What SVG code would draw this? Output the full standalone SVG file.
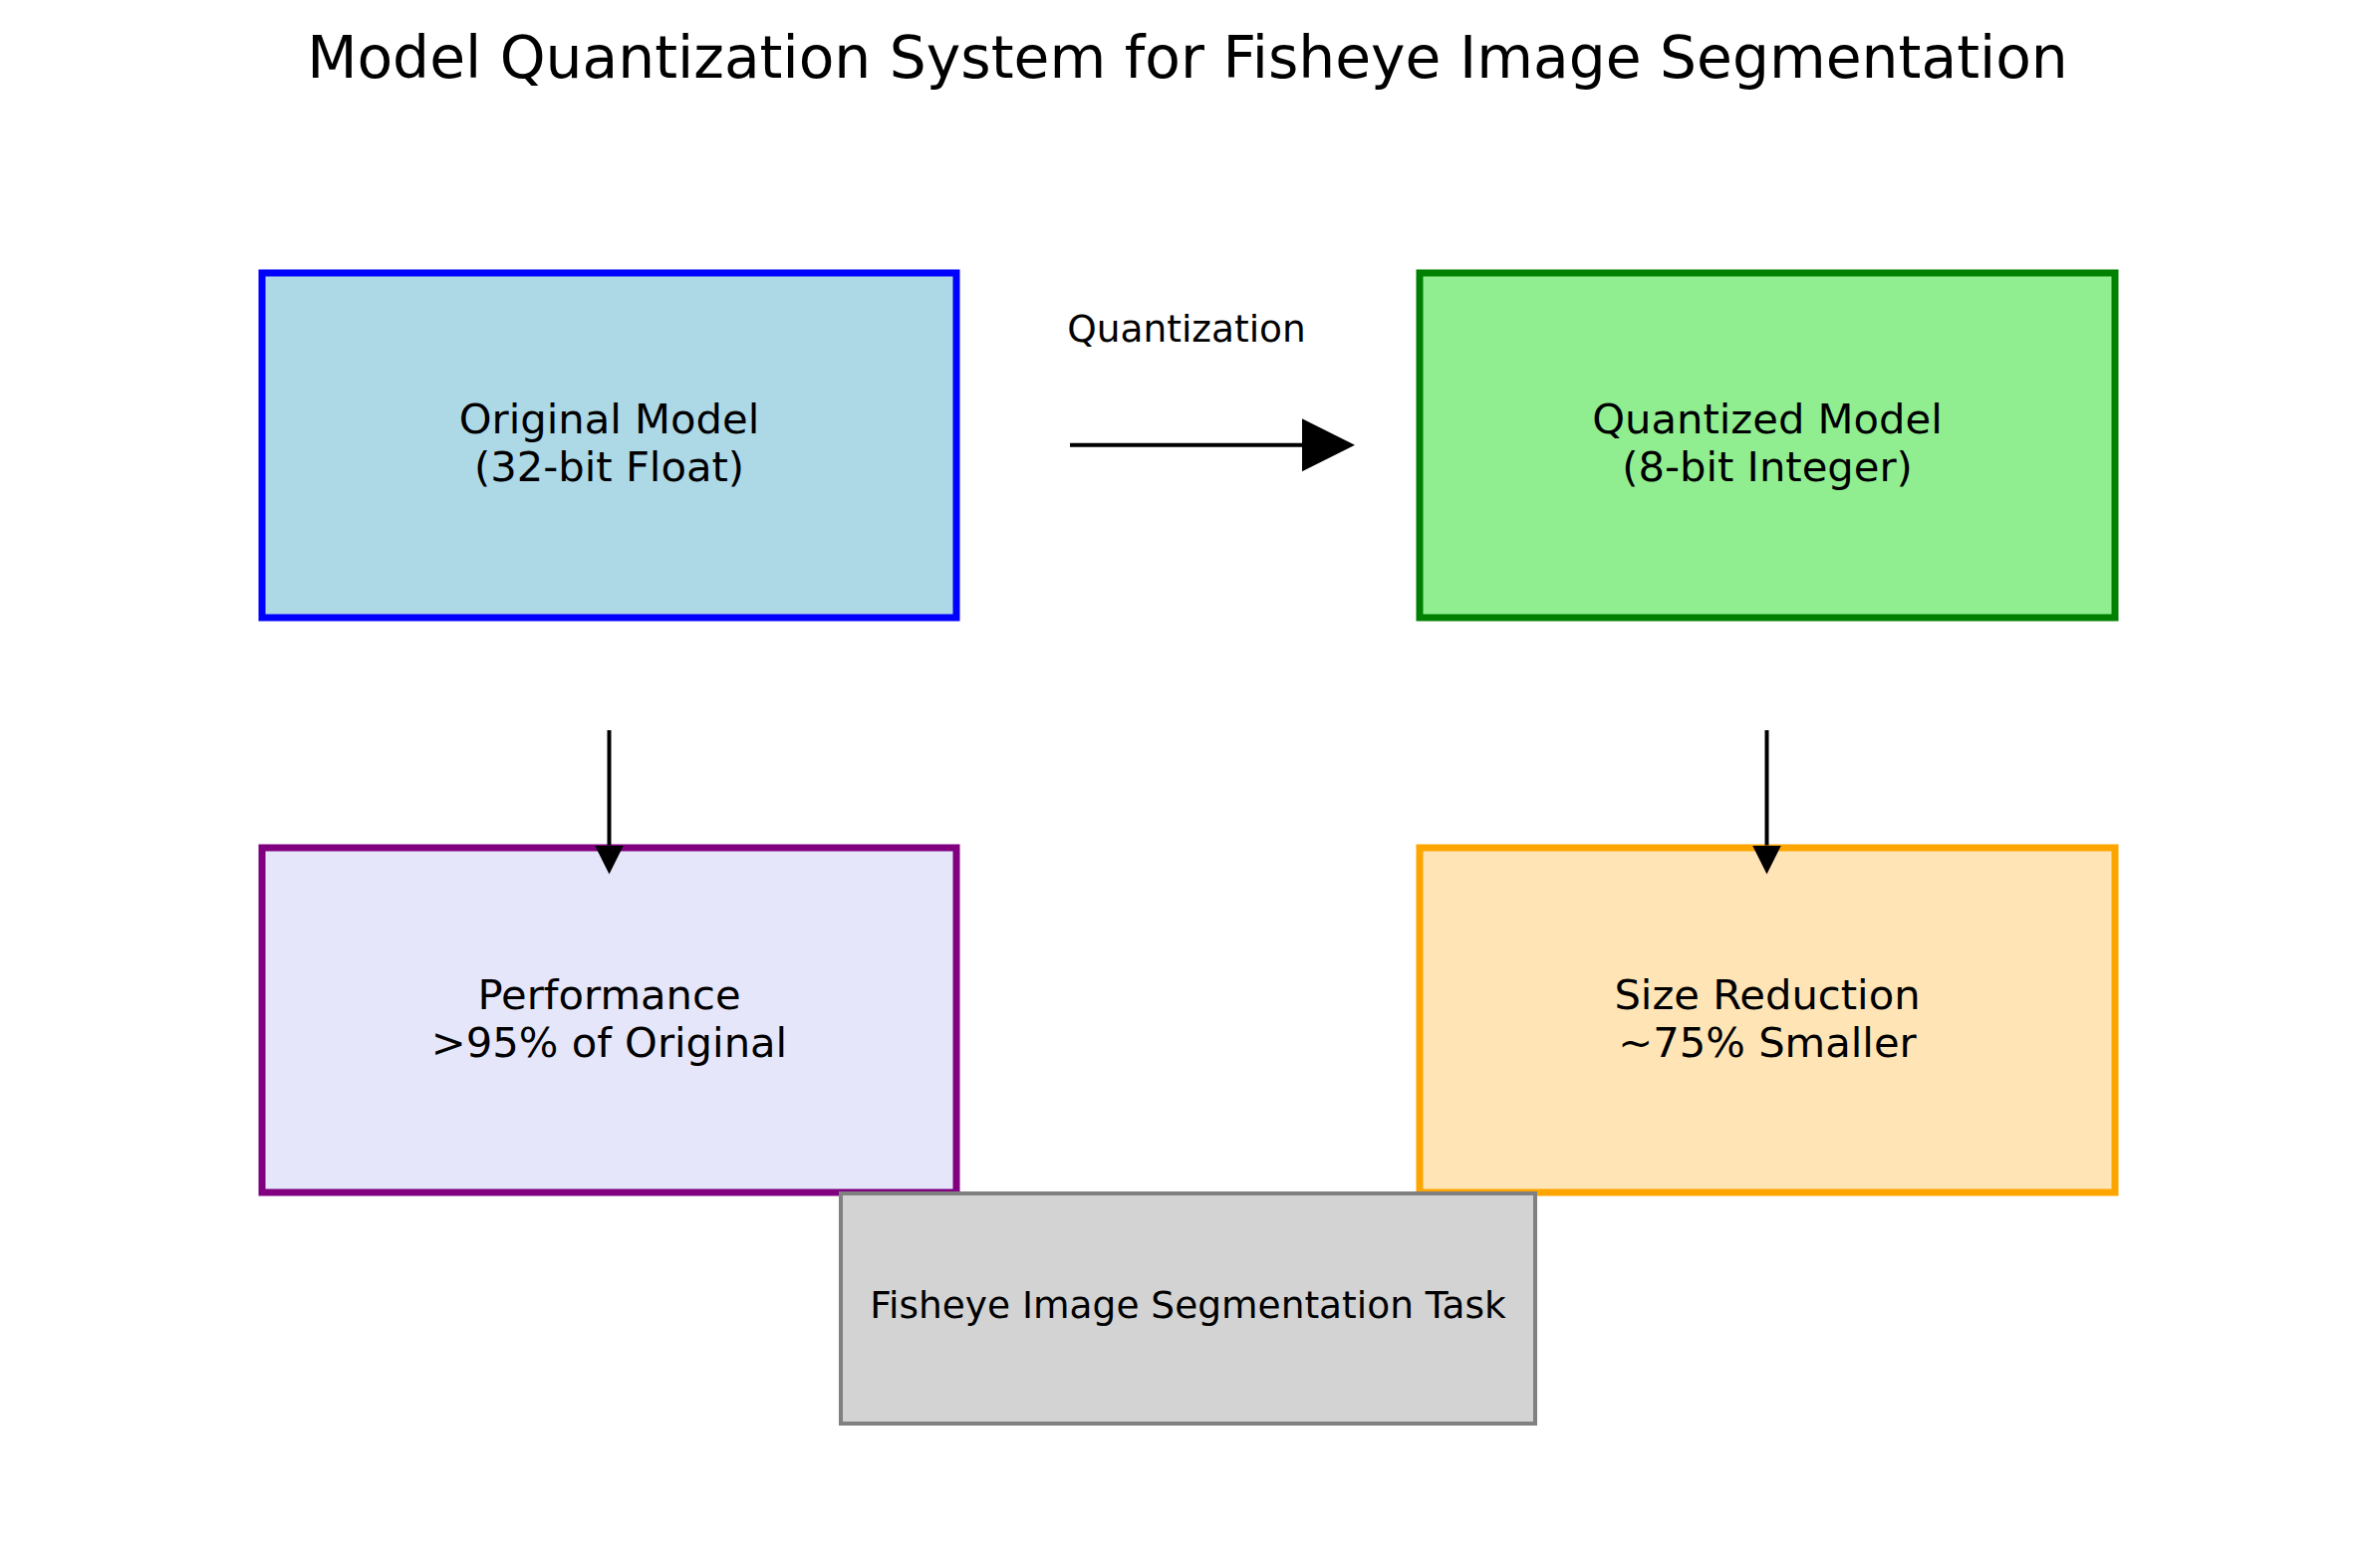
<svg xmlns="http://www.w3.org/2000/svg" width="2385" height="1574" viewBox="0 0 2385 1574">
  <style>
    text { font-family: "DejaVu Sans", "Liberation Sans", sans-serif; fill: #000; text-anchor: middle; }
    .title { font-size: 58.3px; }
    .lbl { font-size: 41.7px; }
    .small { font-size: 37.5px; }
    .box { stroke-width: 7; }
    .conn { stroke: #000; stroke-width: 4; fill: none; }
  </style>
  <defs>
    <marker id="bigHead" markerUnits="userSpaceOnUse" markerWidth="54" markerHeight="54" refX="0" refY="26.5" orient="auto">
      <path d="M0,0 L53,26.5 L0,53 z" fill="#000"/>
    </marker>
    <marker id="smallHead" markerUnits="userSpaceOnUse" markerWidth="30" markerHeight="30" refX="0" refY="14.5" orient="auto">
      <path d="M0,0 L29,14.5 L0,29 z" fill="#000"/>
    </marker>
  </defs>
  <rect width="2385" height="1574" fill="#fff"/>
  <text class="title" x="1192" y="78">Model Quantization System for Fisheye Image Segmentation</text>

  <g id="original-model">
    <rect class="box" x="263" y="274" width="697" height="346" fill="#add8e6" stroke="#0000ff"/>
    <text class="lbl" x="611.5" y="435">Original Model</text>
    <text class="lbl" x="611.5" y="483">(32-bit Float)</text>
  </g>
  <g id="quantized-model">
    <rect class="box" x="1425" y="274" width="698" height="346" fill="#90ee90" stroke="#008000"/>
    <text class="lbl" x="1774" y="435">Quantized Model</text>
    <text class="lbl" x="1774" y="483">(8-bit Integer)</text>
  </g>
  <g id="performance">
    <rect class="box" x="263" y="851" width="697" height="346" fill="#e6e6fa" stroke="#800080"/>
    <text class="lbl" x="611.5" y="1012.5">Performance</text>
    <text class="lbl" x="611.5" y="1060.5">&gt;95% of Original</text>
  </g>
  <g id="size-reduction">
    <rect class="box" x="1425" y="851" width="698" height="346" fill="#ffe4b5" stroke="#ffa500"/>
    <text class="lbl" x="1774" y="1012.5">Size Reduction</text>
    <text class="lbl" x="1774" y="1060.5">~75% Smaller</text>
  </g>
  <g id="task">
    <rect x="844" y="1198" width="697" height="231" fill="#d3d3d3" stroke="#808080" stroke-width="4"/>
    <text class="small" x="1192.5" y="1323">Fisheye Image Segmentation Task</text>
  </g>

  <g id="connectors">
    <line class="conn" x1="1074" y1="446.7" x2="1307" y2="446.7" marker-end="url(#bigHead)"/>
    <text class="small" x="1191" y="343">Quantization</text>
    <line class="conn" x1="611.5" y1="733" x2="611.5" y2="848.5" marker-end="url(#smallHead)"/>
    <line class="conn" x1="1773.5" y1="733" x2="1773.5" y2="848.5" marker-end="url(#smallHead)"/>
  </g>
</svg>
